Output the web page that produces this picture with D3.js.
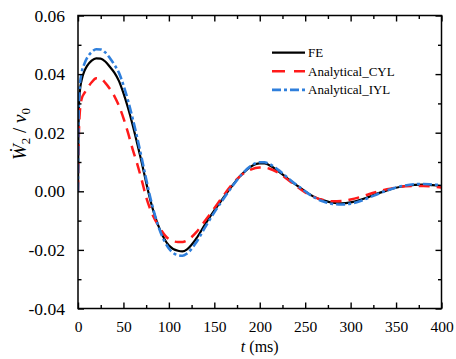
<!DOCTYPE html>
<html>
<head>
<meta charset="utf-8">
<script src="https://cdn.jsdelivr.net/npm/d3@7"></script>
<style>
  body { margin: 0; background: #fff; }
</style>
</head>
<body>
<div id="chart"></div>
<script>
// ----------------
// data
// ----------------
const timeMs = [0, 0.5, 1, 2, 4, 7, 10, 15, 20, 25, 30, 35, 40, 45, 50, 55, 60, 65, 70, 75, 80, 90, 100, 110, 115, 120,
    130, 140, 150, 160, 170, 180, 190, 200, 205, 210, 220, 230, 240, 250, 260, 270, 280, 290, 300, 310, 320, 330, 340,
    350, 360, 370, 380, 390, 400];

const feValues = [0, 0.020, 0.029, 0.034, 0.038, 0.0410, 0.0428, 0.0446, 0.0454, 0.0453, 0.0443, 0.0425, 0.0405,
    0.0377, 0.0335, 0.0285, 0.0228, 0.0165, 0.0100, 0.0030, -0.0035, -0.0130, -0.0185, -0.0203, -0.0205, -0.0198,
    -0.0162, -0.0112, -0.0065, -0.0022, 0.0020, 0.0057, 0.0084, 0.0095, 0.0095, 0.0090, 0.0070, 0.0045, 0.0022, 0.0000,
    -0.0019, -0.0031, -0.0039, -0.0041, -0.0038, -0.0030, -0.0019, -0.0007, 0.0003, 0.0012, 0.0018, 0.0022, 0.0023,
    0.0021, 0.0019];

const cylValues = [0, 0.012, 0.020, 0.027, 0.0315, 0.0335, 0.0350, 0.0372, 0.0386, 0.0385, 0.0370, 0.0350, 0.0325,
    0.0292, 0.0250, 0.0200, 0.0145, 0.0095, 0.0040, -0.0020, -0.0065, -0.0125, -0.0163, -0.0173, -0.0173, -0.0168,
    -0.0140, -0.0100, -0.0058, -0.0015, 0.0025, 0.0056, 0.0074, 0.0081, 0.0081, 0.0078, 0.0064, 0.0042, 0.0018, -0.0004,
    -0.0020, -0.0030, -0.0034, -0.0033, -0.0028, -0.0020, -0.0010, -0.0001, 0.0007, 0.0013, 0.0017, 0.0018, 0.0018,
    0.0016, 0.0013];

const iylValues = [0, 0.022, 0.030, 0.036, 0.0405, 0.0435, 0.0455, 0.0475, 0.0485, 0.0484, 0.0474, 0.0455, 0.0432,
    0.0405, 0.0362, 0.0310, 0.0250, 0.0185, 0.0115, 0.0042, -0.0027, -0.0133, -0.0195, -0.0218, -0.0220, -0.0212,
    -0.0175, -0.0122, -0.0072, -0.0026, 0.0018, 0.0057, 0.0086, 0.0099, 0.0099, 0.0094, 0.0074, 0.0048, 0.0023, 0.0000,
    -0.0021, -0.0035, -0.0043, -0.0045, -0.0042, -0.0034, -0.0022, -0.0009, 0.0003, 0.0013, 0.0020, 0.0024, 0.0025,
    0.0023, 0.0021];

const seriesNames = ["FE", "Analytical_CYL", "Analytical_IYL"];
const xTicks = [0, 50, 100, 150, 200, 250, 300, 350, 400];
const yTicks = [-0.04, -0.02, 0.00, 0.02, 0.04, 0.06];

const serif = "'Liberation Serif', 'DejaVu Serif', serif";

// line styles, one per series
const styles = [
    { color: "#000000", width: 2.2, dash: null },
    { color: "#ff1a1a", width: 2.5, dash: "11,7" },
    { color: "#2f7fdc", width: 2.6, dash: "9,3,3,3" }
];

// set the dimensions and margins of the graph
const margin = { top: 15.5, right: 14.5, bottom: 50.5, left: 78 },
    width = 456 - margin.left - margin.right,
    height = 359 - margin.top - margin.bottom;

const svg = d3.select("#chart")
    .append("svg")
    .attr("width", 456)
    .attr("height", 359)
    .attr("font-family", serif)
    .append("g")
    .attr("transform", `translate(${margin.left},${margin.top})`);

const x = d3.scaleLinear().domain([0, 400]).range([0, width]);
const y = d3.scaleLinear().domain([-0.04, 0.06]).range([height, 0]);

svg.append("clipPath").attr("id", "plotClip")
    .append("rect").attr("width", width).attr("height", height);

// curves
const allSeries = [feValues, cylValues, iylValues];
const line = d3.line()
    .x((d, i) => x(timeMs[i]))
    .y(d => y(d))
    .curve(d3.curveMonotoneX);

svg.append("g")
    .attr("clip-path", "url(#plotClip)")
    .selectAll("path")
    .data(allSeries)
    .join("path")
    .attr("d", d => line(d))
    .attr("fill", "none")
    .attr("stroke", (d, i) => styles[i].color)
    .attr("stroke-width", (d, i) => styles[i].width)
    .attr("stroke-dasharray", (d, i) => styles[i].dash);

// axes, ticks pointing inward on all four sides
const xMinor = d3.range(25, 400, 50);
const yMinor = d3.range(-0.03, 0.06, 0.02);

function styleAxis(g) {
    g.select(".domain").remove();
    g.selectAll(".tick line").attr("stroke", "#000").attr("stroke-width", 1.4);
    g.selectAll("text").attr("font-family", serif).attr("fill", "#000");
}

svg.append("g")
    .attr("transform", `translate(0,${height})`)
    .call(d3.axisBottom(x).tickValues(xTicks).tickSize(-6).tickPadding(12).tickFormat(d3.format("d")))
    .call(styleAxis)
    .selectAll("text").attr("font-size", 15.5);
svg.append("g")
    .attr("transform", `translate(0,${height})`)
    .call(d3.axisBottom(x).tickValues(xMinor).tickSize(-3.5).tickFormat(""))
    .call(styleAxis);
svg.append("g")
    .call(d3.axisTop(x).tickValues(xTicks).tickSize(-6).tickFormat(""))
    .call(styleAxis);
svg.append("g")
    .call(d3.axisTop(x).tickValues(xMinor).tickSize(-3.5).tickFormat(""))
    .call(styleAxis);

svg.append("g")
    .call(d3.axisLeft(y).tickValues(yTicks).tickSize(-6).tickPadding(13).tickFormat(d3.format(".2f")))
    .call(styleAxis)
    .selectAll("text").attr("font-size", 17.5)
    .text(d => d3.format(".2f")(d).replace("−", "-"));
svg.append("g")
    .call(d3.axisLeft(y).tickValues(yMinor).tickSize(-3.5).tickFormat(""))
    .call(styleAxis);
svg.append("g")
    .attr("transform", `translate(${width},0)`)
    .call(d3.axisRight(y).tickValues(yTicks).tickSize(-6).tickFormat(""))
    .call(styleAxis);
svg.append("g")
    .attr("transform", `translate(${width},0)`)
    .call(d3.axisRight(y).tickValues(yMinor).tickSize(-3.5).tickFormat(""))
    .call(styleAxis);

// frame
svg.append("rect")
    .attr("width", width)
    .attr("height", height)
    .attr("fill", "none")
    .attr("stroke", "#000")
    .attr("stroke-width", 1.5);

// axis titles
const xTitle = svg.append("text")
    .attr("x", x(200))
    .attr("y", height + 43)
    .attr("text-anchor", "middle")
    .attr("font-size", 16)
    .attr("fill", "#000");
xTitle.append("tspan").attr("font-style", "italic").text("t");
xTitle.append("tspan").text(" (ms)");

const yTitle = svg.append("text")
    .attr("transform", `translate(${26 - margin.left},${134 - margin.top}) rotate(-90)`)
    .attr("text-anchor", "middle")
    .attr("font-size", 19)
    .attr("fill", "#000");
yTitle.append("tspan").attr("font-style", "italic").text("\u1E86");
yTitle.append("tspan").attr("font-size", 13).attr("dy", 4).text("2");
yTitle.append("tspan").attr("dy", -4).text(" / ");
yTitle.append("tspan").attr("font-style", "italic").text("v");
yTitle.append("tspan").attr("font-size", 13).attr("dy", 4).text("0");

// legend
const legend = svg.append("g")
    .attr("transform", `translate(${272 - margin.left},${52.7 - margin.top})`);
const legendRows = legend.selectAll("g")
    .data(seriesNames)
    .join("g")
    .attr("transform", (d, i) => `translate(0,${i * 18.6})`);
legendRows.append("line")
    .attr("x1", 0).attr("x2", 33)
    .attr("stroke", (d, i) => styles[i].color)
    .attr("stroke-width", (d, i) => styles[i].width)
    .attr("stroke-dasharray", (d, i) => i === 1 ? "13,9" : styles[i].dash);
legendRows.append("text")
    .attr("x", 36)
    .attr("y", 4.5)
    .attr("font-size", 13)
    .attr("fill", "#000")
    .text(d => d);
</script>
</body>
</html>
